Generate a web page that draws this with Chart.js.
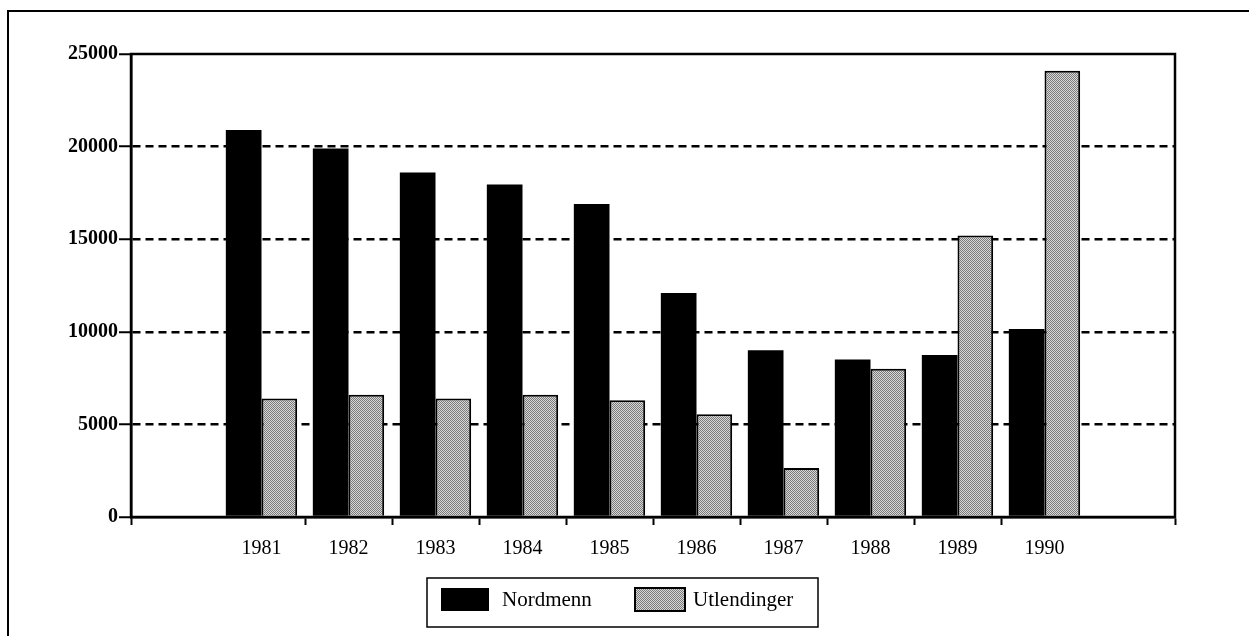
<!DOCTYPE html>
<html>
<head>
<meta charset="utf-8">
<script src="https://cdn.jsdelivr.net/npm/chart.js@4.4.0/dist/chart.umd.min.js"></script>
<style>
  html, body { margin: 0; padding: 0; background: #fff; }
  #wrap { position: relative; width: 1249px; height: 636px; }
</style>
</head>
<body>
<div id="wrap"><canvas id="chart" width="1249" height="636"></canvas></div>
<script>
// --- Date ---
const years = ['', '1981', '1982', '1983', '1984', '1985', '1986', '1987', '1988', '1989', '1990', ''];
const nordmenn = [null, 20900, 19900, 18600, 17950, 16900, 12100, 9000, 8500, 8750, 10150, null];
const utlendinger = [null, 6400, 6600, 6400, 6600, 6300, 5550, 2650, 8000, 15200, 24100, null];
const yTicks = [0, 5000, 10000, 15000, 20000, 25000];

const serif = '"Liberation Serif", "DejaVu Serif", serif';

// model punctat pentru seria gri
function makeDots() {
    const c = document.createElement('canvas');
    c.width = 2; c.height = 2;
    const g = c.getContext('2d');
    g.fillStyle = '#d8d8d8';
    g.fillRect(0, 0, 2, 2);
    g.fillStyle = '#7a7a7a';
    g.fillRect(0, 0, 1, 1);
    g.fillRect(1, 1, 1, 1);
    return g.createPattern(c, 'repeat');
}
const dots = makeDots();

// rama exterioara + legenda desenata manual
const framePlugin = {
    id: 'frame',
    beforeDraw(chart) {
        const ctx = chart.ctx;
        ctx.save();
        ctx.strokeStyle = '#000';
        ctx.lineWidth = 2;
        ctx.beginPath();
        ctx.moveTo(8, 636);
        ctx.lineTo(8, 11);
        ctx.lineTo(1249, 11);
        ctx.stroke();
        ctx.restore();
    },
    afterDraw(chart) {
        const ctx = chart.ctx;
        const a = chart.chartArea;
        ctx.save();
        // chenarul zonei de desen
        ctx.strokeStyle = '#000';
        ctx.lineWidth = 2.5;
        ctx.strokeRect(a.left, a.top, a.right - a.left, a.bottom - a.top);

        // legenda
        ctx.lineWidth = 1.5;
        ctx.strokeRect(427, 578, 391, 49);
        const ds = chart.data.datasets;
        ctx.font = '21px ' + serif;
        ctx.textBaseline = 'middle';
        ctx.fillStyle = ds[0].backgroundColor;
        ctx.fillRect(441, 588, 48, 23);
        ctx.fillStyle = '#000';
        ctx.fillText(ds[0].label, 502, 600);
        ctx.fillStyle = dots;
        ctx.fillRect(635, 588, 50, 23);
        ctx.lineWidth = 2;
        ctx.strokeRect(635, 588, 50, 23);
        ctx.fillStyle = '#000';
        ctx.fillText(ds[1].label, 693, 600);
        ctx.restore();
    }
};

new Chart(document.getElementById('chart'), {
    type: 'bar',
    data: {
        labels: years,
        datasets: [
            {
                label: 'Nordmenn',
                data: nordmenn,
                backgroundColor: '#000',
                borderColor: '#000',
                borderWidth: 0
            },
            {
                label: 'Utlendinger',
                data: utlendinger,
                backgroundColor: dots,
                borderColor: '#000',
                borderWidth: 2
            }
        ]
    },
    options: {
        responsive: false,
        animation: false,
        layout: { padding: { left: 0, right: 74, top: 54, bottom: 69 } },
        datasets: { bar: { categoryPercentage: 0.82, barPercentage: 1.0 } },
        plugins: {
            legend: { display: false },
            tooltip: { enabled: false }
        },
        scales: {
            x: {
                afterFit: s => { s.height = 50; },
                grid: {
                    offset: true,
                    drawOnChartArea: false,
                    drawTicks: true,
                    tickLength: 8,
                    tickWidth: 2,
                    tickColor: c => (c.index === 1 || c.index === 11) ? 'rgba(0,0,0,0)' : '#000'
                },
                border: { display: true, color: '#000', width: 2.5 },
                ticks: {
                    color: '#000',
                    font: { family: serif, size: 20 },
                    padding: 12,
                    maxRotation: 0,
                    autoSkip: false
                }
            },
            y: {
                min: 0,
                max: 25000,
                afterFit: s => { s.width = 131; },
                afterBuildTicks: s => { s.ticks = yTicks.map(v => ({ value: v })); },
                grid: {
                    color: c => (c.tick && (c.tick.value === 0 || c.tick.value === 25000)) ? 'rgba(0,0,0,0)' : '#000',
                    lineWidth: 2.5,
                    tickColor: '#000',
                    tickWidth: 2,
                    tickLength: 12
                },
                border: { display: true, color: '#000', width: 2.5, dash: [8, 5] },
                ticks: {
                    color: '#000',
                    font: { family: serif, size: 20, weight: 'bold' },
                    padding: 1,
                    callback: v => String(v)
                }
            }
        }
    },
    plugins: [framePlugin]
});
</script>
</body>
</html>
